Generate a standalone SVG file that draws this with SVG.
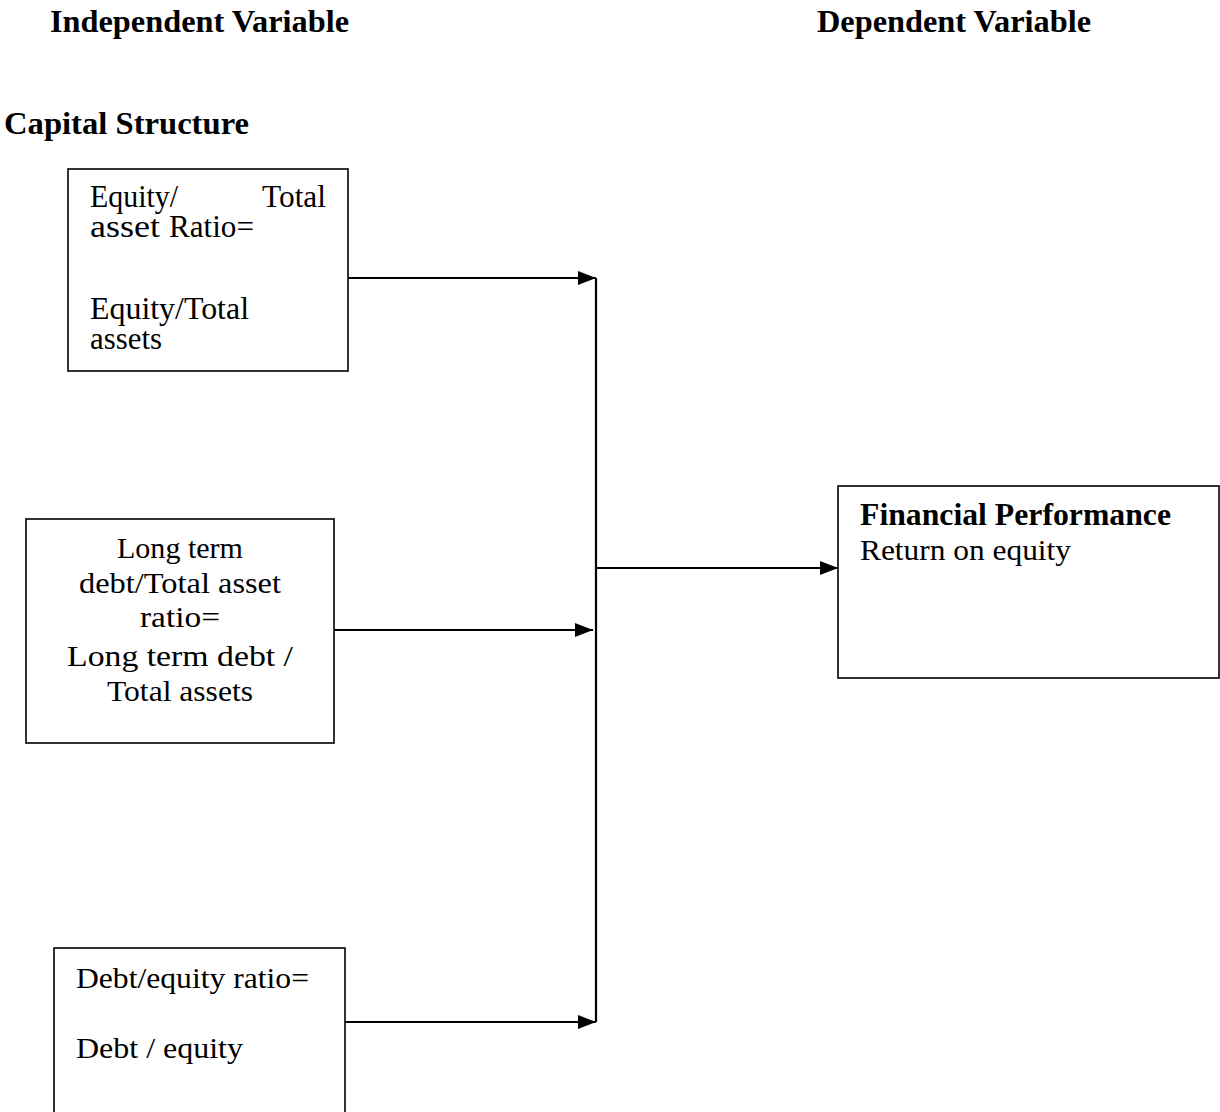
<svg xmlns="http://www.w3.org/2000/svg" width="1220" height="1112" viewBox="0 0 1220 1112">
<style>
text{font-family:'Liberation Serif','Times New Roman',serif;font-size:30px;fill:#000}
.b{font-weight:bold;font-size:32px}
.m{text-anchor:middle}
.s{font-size:31px}
.box{fill:#fff;stroke:#000;stroke-width:1.6}
.c{stroke:#000;stroke-width:2.2;fill:none}
</style>
<defs>
<marker id="ah" markerWidth="18" markerHeight="14" refX="18" refY="7" orient="auto" markerUnits="userSpaceOnUse">
<path d="M0,0 L18,7 L0,14 Z" fill="#000"/>
</marker>
</defs>
<rect width="1220" height="1112" fill="#fff"/>
<text class="b" x="50" y="32" textLength="299" lengthAdjust="spacingAndGlyphs">Independent Variable</text>
<text class="b" x="817" y="32" textLength="274" lengthAdjust="spacingAndGlyphs">Dependent Variable</text>
<text class="b" x="4" y="134" textLength="245" lengthAdjust="spacingAndGlyphs">Capital Structure</text>

<g id="connectors">
<line class="c" x1="596" y1="278" x2="596" y2="1022"/>
<line class="c" x1="348" y1="278" x2="596" y2="278" marker-end="url(#ah)"/>
<line class="c" x1="334" y1="630" x2="593" y2="630" marker-end="url(#ah)"/>
<line class="c" x1="345" y1="1022" x2="596" y2="1022" marker-end="url(#ah)"/>
<line class="c" x1="596" y1="568" x2="838" y2="568" marker-end="url(#ah)"/>
</g>

<g id="node-equity">
<rect class="box" x="68" y="169" width="280" height="202"/>
<text class="s" x="90" y="207" textLength="88" lengthAdjust="spacingAndGlyphs">Equity/</text>
<text class="s" x="262" y="207" textLength="64" lengthAdjust="spacingAndGlyphs">Total</text>
<text class="s" x="90" y="237" textLength="70" lengthAdjust="spacingAndGlyphs">asset</text>
<text class="s" x="169" y="237" textLength="85" lengthAdjust="spacingAndGlyphs">Ratio=</text>
<text class="s" x="90" y="319" textLength="159" lengthAdjust="spacingAndGlyphs">Equity/Total</text>
<text class="s" x="90" y="349" textLength="72" lengthAdjust="spacingAndGlyphs">assets</text>
</g>

<g id="node-longterm">
<rect class="box" x="26" y="519" width="308" height="224"/>
<text class="m" x="180" y="558" textLength="126" lengthAdjust="spacingAndGlyphs">Long term</text>
<text class="m" x="180" y="593" textLength="202" lengthAdjust="spacingAndGlyphs">debt/Total asset</text>
<text class="m" x="180" y="627" textLength="80" lengthAdjust="spacingAndGlyphs">ratio=</text>
<text class="m" x="180" y="666" textLength="226" lengthAdjust="spacingAndGlyphs">Long term debt /</text>
<text class="m" x="180" y="701" textLength="146" lengthAdjust="spacingAndGlyphs">Total assets</text>
</g>

<g id="node-debtequity">
<rect class="box" x="54" y="948" width="291" height="180"/>
<text x="76" y="988" textLength="233" lengthAdjust="spacingAndGlyphs">Debt/equity ratio=</text>
<text x="76" y="1058" textLength="167" lengthAdjust="spacingAndGlyphs">Debt / equity</text>
</g>

<g id="node-performance">
<rect class="box" x="838" y="486" width="381" height="192"/>
<text class="b" x="860" y="525" textLength="311" lengthAdjust="spacingAndGlyphs">Financial Performance</text>
<text x="860" y="560" textLength="211" lengthAdjust="spacingAndGlyphs">Return on equity</text>
</g>
</svg>
